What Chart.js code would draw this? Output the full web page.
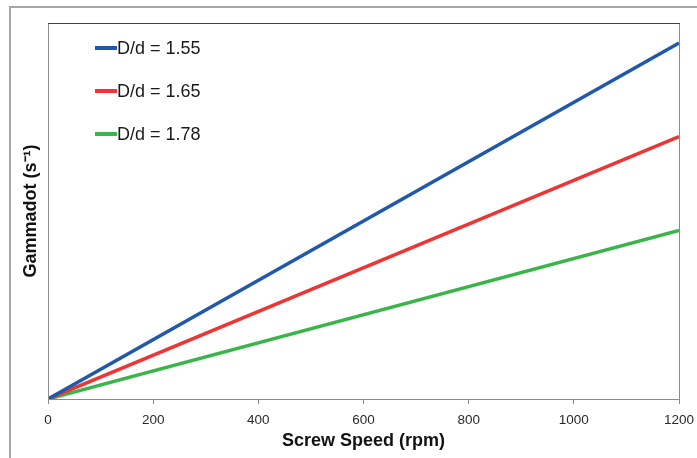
<!DOCTYPE html>
<html>
<head>
<meta charset="utf-8">
<script src="https://cdn.jsdelivr.net/npm/chart.js@4"></script>
<style>
  html, body { margin: 0; padding: 0; background: #fff; }
  #wrap { width: 697px; height: 458px; position: relative; }
</style>
</head>
<body>
<div id="wrap"><canvas id="gammaChart"></canvas></div>
<script>
// values
const screwSpeeds = [0, 1200];
const seriesNames = ['D/d = 1.55', 'D/d = 1.65', 'D/d = 1.78'];
const seriesColors = ['#2159AA', '#EE3535', '#3AB54A'];
const gammaBlue = [0, 94.7];
const gammaRed = [0, 69.8];
const gammaGreen = [0, 44.8];
const xTicks = [0, 200, 400, 600, 800, 1000, 1200];

const seriesValues = [gammaBlue, gammaRed, gammaGreen];

// frame around the whole picture + box around plot + legend inside
const framePlugin = {
  id: 'framePlugin',
  beforeDraw(chart) {
    const ctx = chart.ctx;
    ctx.save();
    ctx.fillStyle = '#fff';
    ctx.fillRect(0, 0, chart.width, chart.height);
    ctx.strokeStyle = '#a6a6a6';
    ctx.lineWidth = 2;
    ctx.beginPath();
    ctx.moveTo(10, chart.height);
    ctx.lineTo(10, 7);
    ctx.lineTo(chart.width, 7);
    ctx.stroke();
    ctx.restore();
  },
  afterDraw(chart) {
    const ctx = chart.ctx;
    const a = chart.chartArea;
    ctx.save();
    ctx.lineWidth = 1;
    ctx.strokeStyle = '#8c8c8c';
    ctx.beginPath();
    ctx.moveTo(a.left + 0.5, a.top);
    ctx.lineTo(a.left + 0.5, a.bottom + 0.5);
    ctx.lineTo(a.right + 0.5, a.bottom + 0.5);
    ctx.lineTo(a.right + 0.5, a.top);
    ctx.stroke();
    ctx.strokeStyle = '#404040';
    ctx.beginPath();
    ctx.moveTo(a.left, a.top + 0.5);
    ctx.lineTo(a.right + 1, a.top + 0.5);
    ctx.stroke();

    // legend
    ctx.font = '18px Arial, "Liberation Sans", sans-serif';
    ctx.textBaseline = 'middle';
    chart.data.datasets.forEach((ds, i) => {
      const y = 48 + i * 43;
      ctx.strokeStyle = ds.borderColor;
      ctx.lineWidth = 4;
      ctx.beginPath();
      ctx.moveTo(95, y);
      ctx.lineTo(117, y);
      ctx.stroke();
      ctx.fillStyle = '#1a1a1a';
      ctx.fillText(ds.label, 117, y + 1);
    });
    ctx.restore();
  }
};

new Chart(document.getElementById('gammaChart'), {
  type: 'line',
  data: {
    datasets: seriesNames.map((name, i) => ({
      label: name,
      data: screwSpeeds.map((x, j) => ({ x: x, y: seriesValues[i][j] })),
      borderColor: seriesColors[i],
      backgroundColor: seriesColors[i],
      borderWidth: 3.5,
      pointRadius: 0,
      fill: false
    }))
  },
  options: {
    responsive: true,
    maintainAspectRatio: false,
    animation: false,
    layout: { padding: { left: 0, top: 23, right: 18, bottom: 0 } },
    plugins: {
      legend: { display: false },
      tooltip: { enabled: false }
    },
    scales: {
      x: {
        type: 'linear',
        min: 0,
        max: 1200,
        afterBuildTicks: s => { s.ticks = xTicks.map(v => ({ value: v })); },
        afterFit: s => { s.height = 59; s.paddingLeft = 0; s.paddingRight = 0; },
        border: { display: false },
        grid: { drawOnChartArea: false, drawTicks: true, tickLength: 5, color: '#8c8c8c' },
        ticks: {
          color: '#2a2a2a',
          padding: 8,
          maxRotation: 0,
          callback: v => String(v),
          font: { family: 'Arial, "Liberation Sans", sans-serif', size: 13.5 }
        },
        title: {
          display: true,
          text: 'Screw Speed (rpm)',
          color: '#111',
          padding: { top: 0, bottom: 6 },
          font: { family: 'Arial, "Liberation Sans", sans-serif', size: 18, weight: 'bold' }
        }
      },
      y: {
        min: 0,
        max: 100,
        afterFit: s => { s.width = 48; },
        border: { display: false },
        grid: { display: false },
        ticks: { display: false },
        title: {
          display: true,
          text: 'Gammadot (s\u207B\u00B9)',
          color: '#111',
          padding: { top: 20, bottom: 0 },
          font: { family: 'Arial, "Liberation Sans", sans-serif', size: 18, weight: 'bold' }
        }
      }
    }
  },
  plugins: [framePlugin]
});
</script>
</body>
</html>
